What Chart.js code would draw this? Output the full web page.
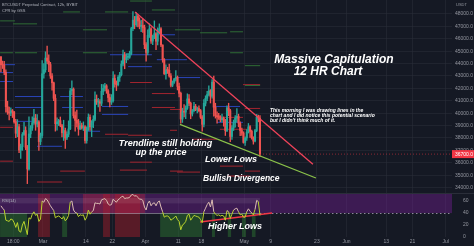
<!DOCTYPE html>
<html>
<head>
<meta charset="utf-8">
<script src="https://cdn.jsdelivr.net/npm/chart.js@4.4.1/dist/chart.umd.min.js"></script>
<style>
  html, body { margin: 0; padding: 0; background: #151924; overflow: hidden; }
  #priceChart { position: absolute; left: 0; top: 0; }
  #rsiChart { position: absolute; left: 0; top: 193px; }
</style>
</head>
<body>
<canvas id="priceChart" width="474" height="193"></canvas>
<canvas id="rsiChart" width="474" height="53"></canvas>
<script>
// time axis is in days counted from Mar 1; 12h candles start Feb 16 00:00
const firstCandleDay = -13;
const candleStep = 0.5;

// one line per day: AM candle, PM candle
const opens = [
  44540, 43900,  43880, 43300,  40520, 40100,  40000, 40200,  40100, 39300,
  38380, 38900,  37020, 37300,  38280, 38600,  37250, 35500,  38330, 38800,
  39230, 39600,  39130, 39300,  37710, 38200,  43180, 43500,  44440, 44200,
  43920, 43000,  42450, 41200,  39150, 39300,  39400, 39000,  38420, 38600,
  37990, 38300,  38730, 41800,  41940, 39800,  39420, 39200,  38730, 39000,
  38810, 38900,  37790, 38800,  39670, 38900,  39280, 39500,  41110, 40900,
  40920, 40800,  41760, 42000,  42200, 41800,  41260, 40900,  41000, 42800,
  42360, 42300,  42890, 43100,  43960, 44700,  44330, 44500,  44510, 44800,
  46820, 47500,  47130, 47800,  47430, 47000,  47060, 46900,  45530, 44900,
  46280, 46800,  45810, 46200,  46410, 45800,  46620, 46800,  45500, 44300,
  43170, 43500,  43450, 43000,  42250, 42500,  42750, 42900,  42160, 41600,
  39530, 40100,  40080, 40400,  41150, 40800,  39940, 40200,  40550, 40300,
  40380, 40200,  39680, 39100,  40800, 41200,  41500, 41800,  41370, 42500,
  40480, 39800,  39710, 39700,  39470, 39600,  39450, 38600,  40430, 40200,
  38120, 38800,  39240, 39600,  39740, 39200,  38600, 38400,  37640, 38000,
  38470, 38900,  38530, 38000,  37750, 38600,  39690, 39600
];
const highs = [
  44560, 44200,  44180, 43500,  40960, 40500,  40430, 40300,  40150, 39500,
  39480, 39100,  37500, 38440,  39270, 38900,  37400, 39700,  39000, 39700,
  40300, 39900,  39880, 39400,  38400, 44230,  44000, 44950,  45400, 44700,
  44100, 43200,  42510, 41500,  39620, 39500,  39690, 39100,  39430, 38800,
  38500, 39380,  42000, 42600,  42040, 40100,  40240, 39500,  39360, 39200,
  39300, 39000,  38900, 39940,  39870, 39400,  39800, 41720,  41470, 41200,
  41100, 42320,  42300, 42400,  42300, 41900,  41540, 41500,  43360, 43100,
  42600, 43020,  43300, 44220,  45090, 44900,  44800, 44830,  45000, 46920,
  48190, 47800,  48100, 47900,  47700, 47500,  47600, 47100,  45700, 46720,
  47210, 46900,  46300, 47440,  46500, 46880,  47200, 46900,  45500, 44400,
  43900, 43700,  43960, 43200,  42600, 42800,  43430, 43000,  42420, 41700,
  40400, 40700,  40600, 41560,  41500, 40900,  40300, 40870,  40710, 40500,
  40600, 40300,  39800, 41100,  41400, 41760,  42200, 41900,  42700, 42980,
  40800, 40100,  39990, 39800,  39930, 39700,  39500, 40600,  40800, 40300,
  39000, 39450,  39800, 40370,  39920, 39300,  38800, 38500,  38100, 38670,
  39170, 39000,  38640, 38100,  38700, 39900,  39840, 39800
];
const lows = [
  43330, 43600,  43100, 40090,  39900, 39450,  39800, 39650,  39200, 38020,
  38100, 36810,  36350, 37000,  38200, 37060,  34320, 35400,  38020, 38600,
  39100, 38620,  38900, 37000,  37450, 38000,  42830, 43300,  44000, 43350,
  42800, 41850,  41000, 38550,  38620, 39000,  38900, 38090,  37800, 37160,
  37870, 38100,  38660, 41500,  39600, 38540,  38900, 38220,  38660, 38700,
  38600, 37580,  37580, 38600,  38600, 38110,  38830, 39400,  40700, 40500,
  40140, 40600,  41500, 41800,  41600, 40900,  40500, 40700,  40880, 42100,
  41820, 42200,  42560, 43000,  43800, 43580,  44070, 44300,  44420, 44700,
  46660, 46800,  47000, 46950,  46800, 46560,  46500, 45200,  44200, 44700,
  46100, 45630,  45520, 46000,  45120, 45500,  46400, 45360,  44100, 43120,
  42740, 43200,  42900, 42120,  42130, 42400,  42600, 41870,  41300, 39200,
  39250, 39700,  39560, 40300,  40600, 39550,  39770, 40100,  40200, 40010,
  40100, 39570,  38540, 38900,  40580, 41000,  41400, 40820,  41200, 39760,
  39600, 39200,  39500, 39300,  39300, 38950,  38200, 38500,  39800, 37700,
  37880, 38600,  38880, 39300,  38900, 38180,  38200, 37580,  37390, 37800,
  38400, 38050,  37900, 37500,  37680, 38500,  39300, 36500
];
const closes = [
  43900, 43880,  43300, 40520,  40100, 40000,  40200, 40100,  39300, 38380,
  38900, 37020,  37300, 38280,  38600, 37250,  35500, 38330,  38800, 39230,
  39600, 39130,  39300, 37710,  38200, 43180,  43500, 44440,  44200, 43920,
  43000, 42450,  41200, 39150,  39300, 39400,  39000, 38420,  38600, 37990,
  38300, 38730,  41800, 41940,  39800, 39420,  39200, 38730,  39000, 38810,
  38900, 37790,  38800, 39670,  38900, 39280,  39500, 41110,  40900, 40920,
  40800, 41760,  42000, 42200,  41800, 41260,  40900, 41000,  42800, 42360,
  42300, 42890,  43100, 43960,  44700, 44330,  44500, 44510,  44800, 46820,
  47500, 47130,  47800, 47430,  47000, 47060,  46900, 45530,  44900, 46280,
  46800, 45810,  46200, 46410,  45800, 46620,  46800, 45500,  44300, 43170,
  43500, 43450,  43000, 42250,  42500, 42750,  42900, 42160,  41600, 39530,
  40100, 40080,  40400, 41150,  40800, 39940,  40200, 40550,  40300, 40380,
  40200, 39680,  39100, 40800,  41200, 41500,  41800, 41370,  42500, 40480,
  39800, 39710,  39700, 39470,  39600, 39450,  38600, 40430,  40200, 38120,
  38800, 39240,  39600, 39740,  39200, 38600,  38400, 37640,  38000, 38470,
  38900, 38530,  38000, 37750,  38600, 39690,  39600, 36700
];
const rsi = [
  52, 48,  45, 28,  27, 26,  30, 29,  24, 16,
  24, 10,   8, 20,  26, 15,   4, 32,  30, 38,
  42, 36,  38, 26,  30, 60,  58, 64,  62, 57,
  52, 48,  44, 32,  34, 35,  33, 30,  34, 27,
  30, 36,  58, 60,  45, 41,  40, 34,  37, 36,
  37, 28,  33, 45,  38, 42,  44, 57,  56, 56,
  55, 62,  63, 64,  61, 55,  53, 54,  63, 60,
  58, 62,  64, 67,  68, 64,  65, 65,  66, 70,
  71, 68,  69, 66,  63, 63,  61, 50,  45, 56,
  60, 52,  56, 57,  52, 58,  60, 50,  42, 33,
  35, 35,  33, 28,  30, 32,  35, 29,  26, 12,
  20, 22,  26, 36,  38, 28,  32, 36,  35, 34,
  33, 29,  24, 42,  48, 54,  58, 50,  62, 42,
  38, 36,  37, 35,  36, 35,  28, 44,  42, 31,
  38, 45,  47, 48,  42, 37,  38, 33,  33, 42,
  47, 43,  40, 37,  46, 61,  59, 36
];
const currentPrice = 36700;

// pivot levels of the CPR indicator: [startDay, endDay, price]
const greenLevels = [
  [-13, -8.5, 47440], [-9.1, -1.8, 47200], [-13, -9.1, 44870], [-8.5, -1.8, 44870],
  [6.1, 11.2, 48160], [12.1, 19.4, 46720], [12.1, 19.4, 44870], [18.8, 25.8, 48160],
  [26.4, 33, 49040], [33, 40, 48320], [40, 47.6, 46720], [47.6, 55.8, 46480],
  [56.7, 60.6, 46560], [56.7, 60.6, 44870], [61.2, 65.8, 43830], [61.2, 65.8, 42230]
];
const redLevels = [
  [-13, -9.1, 36130], [-13, -9.1, 38860], [-1.8, 5.8, 34450], [5.2, 12.7, 35330],
  [18.8, 25.8, 38300], [23.3, 31.5, 35410], [26.4, 33, 42470], [25.8, 33, 38220],
  [26.4, 33, 36050], [33, 40, 41580], [33, 40, 40460], [38.5, 42.4, 40300],
  [38.5, 40.6, 38620], [38.5, 42.4, 35330], [40.6, 47.6, 35250], [45.2, 52.7, 37900],
  [52.7, 60.6, 39660], [53.6, 61.8, 38700], [53.6, 60.6, 35730], [55.8, 62.7, 34930],
  [60.6, 65.8, 42300], [61.2, 65.8, 40380], [61.2, 65.8, 35330]
];
const blueLevels = [
  [-13, -8.5, 43910], [-13, -9.1, 43270], [-13, -9.1, 42550], [-8.5, 0, 41340],
  [-8.5, 0, 40460], [-8.5, -1.8, 39340], [-1.8, 5.8, 37330], [5.2, 12.1, 41340],
  [5.8, 12.1, 40460], [12.7, 17.3, 38540], [17.9, 25.8, 40540], [17.9, 25.8, 39900],
  [20.3, 26.4, 44710], [25.8, 33, 44710], [25.8, 33, 43750], [34.8, 40, 46320],
  [34.5, 43.6, 44310], [40.6, 47.6, 42870], [51.5, 59.7, 40540], [52.7, 60.6, 39260]
];

// drawn trend lines: [day, price]
const resistanceLine = [[27.9, 48160], [81.8, 35890]];
const supportLine = [[41.5, 39100], [82.7, 34770]];
// drawn on the RSI pane: [day, value]
const higherLowsLine = [[47.6, 25], [69.4, 40]];

// RSI background zones: [startDay, endDay]
const rsiRedFull = [[-1.5, 2.1], [18.2, 20.3], [21.8, 29.4]];
const rsiRedTop = [[12.1, 30.9]];
const rsiGreenLow = [[-13, -4.8], [5.8, 7.3], [35.5, 48.2], [51.2, 52.1], [56, 57], [60.3, 61.5], [63.3, 64.4]];

const priceTicks = [34000, 35000, 36000, 37000, 38000, 39000, 40000, 41000, 42000,
  43000, 44000, 45000, 46000, 47000, 48000];
const rsiTicks = [60, 40, 20, 0];
const timeTickDays = [-9, 0, 13, 21, 31, 41, 48, 61, 69, 83, 92, 104, 112, 122];
const timeTickLabels = ['18:00', 'Mar', '14', '22', 'Apr', '11', '18', 'May', '9', '23', 'Jun', '13', '21', 'Jul'];

const xMin = -13.03, xMax = 123.94;
const up = '#26a69a', down = '#ef5350';
const gridColor = 'rgba(42,46,57,0.55)';
const axisText = '#9598a1';
const font = '"Liberation Sans", Arial, sans-serif';

const candleX = opens.map((_, i) => firstCandleDay + candleStep * i + candleStep / 2);
const candleColor = i => closes[i] >= opens[i] ? up : down;
const lastDay = candleX[candleX.length - 1];

function segments(list) {
  const pts = [];
  list.forEach(([a, b, p]) => pts.push({x: a, y: p}, {x: b, y: p}, {x: b, y: null}));
  return pts;
}
function levelSet(list, color) {
  return { type: 'line', data: segments(list), borderColor: color, borderWidth: 1,
    pointRadius: 0, spanGaps: false, order: 5 };
}
function noPad(s) { s.paddingTop = 0; s.paddingBottom = 0; s.paddingLeft = 0; s.paddingRight = 0; }

const notes = [
  {t: 'BTCUSDT Perpetual Contract, 12h, BYBIT', x: 2, y: 4.5, f: '4px ' + font, c: '#b2b5be', a: 'left'},
  {t: 'CPR by GSS', x: 2, y: 10.5, f: '4px ' + font, c: '#b2b5be', a: 'left'},
  {t: 'USDT', x: 456, y: 5, f: '4px ' + font, c: axisText, a: 'left'},
  {t: 'Massive Capitulation', x: 334, y: 60, f: 'italic bold 12px ' + font, c: '#ffffff', a: 'center'},
  {t: '12 HR Chart', x: 328, y: 71.5, f: 'italic bold 12px ' + font, c: '#ffffff', a: 'center'},
  {t: 'This morning I was drawing lines in the', x: 270, y: 111, f: 'italic bold 5px ' + font, c: '#ffffff', a: 'left'},
  {t: 'chart and I did notice this potential scenario', x: 270, y: 116, f: 'italic bold 5px ' + font, c: '#ffffff', a: 'left'},
  {t: "but I didn't think much of it.", x: 270, y: 121, f: 'italic bold 5px ' + font, c: '#ffffff', a: 'left'},
  {t: 'Trendline still holding', x: 165.5, y: 144, f: 'italic bold 9px ' + font, c: '#ffffff', a: 'center'},
  {t: 'up the price', x: 161, y: 153, f: 'italic bold 9px ' + font, c: '#ffffff', a: 'center'},
  {t: 'Lower Lows', x: 205, y: 160, f: 'italic bold 9px ' + font, c: '#ffffff', a: 'left'},
  {t: 'Bullish Divergence', x: 203, y: 179, f: 'italic bold 8.5px ' + font, c: '#ffffff', a: 'left'}
];
const rsiNotes = [
  {t: 'RSI(14)', x: 2, y: 8, f: '4px ' + font, c: '#b2b5be', a: 'left'},
  {t: 'Higher Lows', x: 208, y: 34, f: 'italic bold 9px ' + font, c: '#ffffff', a: 'left'}
];

function drawNotes(ctx, list) {
  ctx.save();
  ctx.textBaseline = 'middle';
  list.forEach(n => {
    ctx.font = n.f; ctx.fillStyle = n.c; ctx.textAlign = n.a;
    ctx.fillText(n.t, n.x, n.y);
  });
  ctx.restore();
}

const pricePlugin = {
  id: 'priceExtras',
  afterDraw(chart) {
    const ctx = chart.ctx;
    const y = chart.scales.y.getPixelForValue(currentPrice);
    ctx.save();
    ctx.fillStyle = '#f23645';
    ctx.fillRect(chart.chartArea.right, y - 4, 22, 8);
    ctx.fillStyle = '#ffffff';
    ctx.font = '5px ' + font;
    ctx.textBaseline = 'middle';
    ctx.fillText(currentPrice.toFixed(1), chart.chartArea.right + 3, y + 0.5);
    ctx.restore();
    drawNotes(ctx, notes);
  }
};

new Chart(document.getElementById('priceChart'), {
  type: 'bar',
  data: {
    datasets: [
      levelSet(greenLevels, '#2f6b35'),
      levelSet(redLevels, '#a3252f'),
      levelSet(blueLevels, '#2a45b8'),
      {
        data: candleX.map((x, i) => ({x, y: [lows[i], highs[i]]})),
        backgroundColor: ctx => candleColor(ctx.dataIndex),
        barThickness: 0.7, grouped: false, order: 3
      },
      {
        data: candleX.map((x, i) => ({x, y: [opens[i], closes[i]]})),
        backgroundColor: ctx => candleColor(ctx.dataIndex),
        barThickness: 1.4, minBarLength: 1, grouped: false, order: 2
      },
      { type: 'line', data: resistanceLine.map(([x, y]) => ({x, y})), borderColor: '#f0435a',
        borderWidth: 1.3, pointRadius: 0, order: 1 },
      { type: 'line', data: supportLine.map(([x, y]) => ({x, y})), borderColor: '#8bc34a',
        borderWidth: 1.2, pointRadius: 0, order: 1 },
      { type: 'line', data: [{x: lastDay, y: currentPrice}, {x: xMax, y: currentPrice}],
        borderColor: 'rgba(242,54,69,0.55)', borderWidth: 1, borderDash: [1, 2], pointRadius: 0, order: 1 }
    ]
  },
  options: {
    responsive: false, animation: false, devicePixelRatio: 1,
    layout: { padding: 0 },
    plugins: { legend: { display: false }, tooltip: { enabled: false } },
    scales: {
      x: {
        type: 'linear', min: xMin, max: xMax, offset: false,
        afterBuildTicks: s => { s.ticks = timeTickDays.map(v => ({value: v})); },
        afterFit: s => { s.height = 0; noPad(s); },
        ticks: { display: false },
        grid: { color: gridColor, drawTicks: false, offset: false },
        border: { display: false }
      },
      y: {
        position: 'right', min: 33564, max: 49123,
        afterBuildTicks: s => { s.ticks = priceTicks.map(v => ({value: v})); },
        afterFit: s => { s.width = 22; noPad(s); },
        ticks: { color: axisText, font: { size: 5, family: font }, padding: 3,
          callback: v => v.toFixed(1) },
        grid: { color: gridColor, drawTicks: false },
        border: { display: false }
      }
    }
  },
  plugins: [pricePlugin]
});

const rsiPlugin = {
  id: 'rsiExtras',
  beforeDatasetsDraw(chart) {
    const {ctx, chartArea: a, scales: {x, y}} = chart;
    const px = d => x.getPixelForValue(d);
    const py = v => y.getPixelForValue(v);
    ctx.save();
    ctx.beginPath(); ctx.rect(a.left, a.top, a.width, a.height); ctx.clip();
    // upper band
    ctx.fillStyle = 'rgba(126,32,160,0.38)';
    ctx.fillRect(a.left, a.top, a.width, py(40) - a.top);
    ctx.fillStyle = 'rgba(200,40,60,0.35)';
    rsiRedTop.forEach(([s, e]) => ctx.fillRect(px(s), a.top, px(e) - px(s), py(40) - a.top));
    ctx.fillStyle = 'rgba(170,30,45,0.45)';
    rsiRedFull.forEach(([s, e]) => ctx.fillRect(px(s), a.top, px(e) - px(s), a.height));
    ctx.fillStyle = 'rgba(46,125,50,0.45)';
    rsiGreenLow.forEach(([s, e]) => ctx.fillRect(px(s), py(40), px(e) - px(s), a.bottom - py(40)));
    // lighter strip and the 40 level over the traded range
    ctx.fillStyle = 'rgba(255,255,255,0.08)';
    ctx.fillRect(a.left, py(65), px(lastDay) - a.left, py(56) - py(65));
    ctx.strokeStyle = 'rgba(220,210,230,0.45)';
    ctx.lineWidth = 1;
    ctx.beginPath(); ctx.moveTo(a.left, py(40) + 0.5); ctx.lineTo(px(lastDay), py(40) + 0.5); ctx.stroke();
    ctx.setLineDash([1.5, 2.5]);
    ctx.strokeStyle = 'rgba(220,210,230,0.6)';
    ctx.beginPath(); ctx.moveTo(px(lastDay), py(40) + 0.5); ctx.lineTo(a.right, py(40) + 0.5); ctx.stroke();
    ctx.restore();
  },
  afterDraw(chart) {
    const ctx = chart.ctx;
    ctx.save();
    ctx.strokeStyle = '#2a2e39';
    ctx.beginPath(); ctx.moveTo(0, 0.5); ctx.lineTo(474, 0.5); ctx.stroke();
    ctx.restore();
    drawNotes(ctx, rsiNotes);
  }
};

new Chart(document.getElementById('rsiChart'), {
  type: 'line',
  data: {
    datasets: [
      {
        data: candleX.map((x, i) => ({x, y: rsi[i]})),
        borderWidth: 1, pointRadius: 0, borderColor: '#d9b8b0',
        segment: { borderColor: ctx => (ctx.p0.parsed.y < 40 || ctx.p1.parsed.y < 40) ? '#b9d22c' : '#dcbcb2' }
      },
      { data: higherLowsLine.map(([x, y]) => ({x, y})), borderColor: '#f23645',
        borderWidth: 1.6, pointRadius: 0 }
    ]
  },
  options: {
    responsive: false, animation: false, devicePixelRatio: 1,
    layout: { padding: { top: 1, left: 0, right: 0, bottom: 0 } },
    plugins: { legend: { display: false }, tooltip: { enabled: false } },
    scales: {
      x: {
        type: 'linear', min: xMin, max: xMax, offset: false,
        afterBuildTicks: s => { s.ticks = timeTickDays.map(v => ({value: v})); },
        afterFit: s => { s.height = 9; noPad(s); },
        ticks: { color: axisText, font: { size: 5, family: font }, padding: 2,
          autoSkip: false, maxRotation: 0, callback: (v, i) => timeTickLabels[i] },
        grid: { color: gridColor, drawTicks: false },
        border: { display: false }
      },
      y: {
        position: 'right', min: 0, max: 71.67,
        afterBuildTicks: s => { s.ticks = rsiTicks.map(v => ({value: v})); },
        afterFit: s => { s.width = 22; noPad(s); },
        ticks: { color: axisText, font: { size: 5, family: font }, padding: 3 },
        grid: { display: false },
        border: { display: false }
      }
    }
  },
  plugins: [rsiPlugin]
});
</script>
</body>
</html>
